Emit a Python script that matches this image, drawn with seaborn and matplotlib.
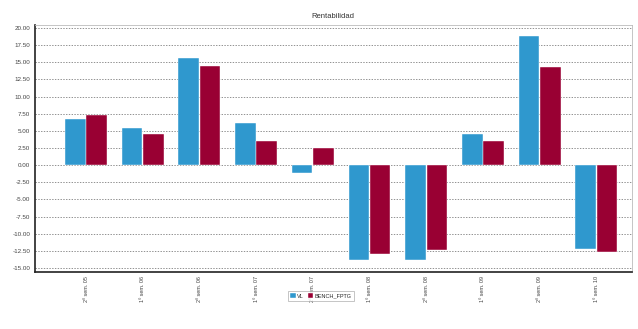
import matplotlib
matplotlib.use("Agg")
import matplotlib.pyplot as plt
import seaborn as sns
import pandas as pd

categories = ["2º sem. 05", "1º sem. 06", "2º sem. 06", "1º sem. 07", "2º sem. 07",
              "1º sem. 08", "2º sem. 08", "1º sem. 09", "2º sem. 09", "1º sem. 10"]
vl = [6.67, 5.35, 15.6, 6.18, -1.1, -13.87, -13.8, 4.5, 18.8, -12.2]
bench = [7.3, 4.57, 14.45, 3.45, 2.5, -12.9, -12.4, 3.45, 14.35, -12.75]
series_names = ["VL", "BENCH_FPTG"]
colors = ["#2F98CE", "#990033"]
yticks = [20, 17.5, 15, 12.5, 10, 7.5, 5, 2.5, 0, -2.5, -5, -7.5, -10, -12.5, -15]

df = pd.DataFrame({
    "cat": categories * 2,
    "val": vl + bench,
    "serie": [series_names[0]] * len(categories) + [series_names[1]] * len(categories),
})

sns.set_style("white")
plt.rcParams['font.family'] = ['Liberation Sans', 'DejaVu Sans']

fig = plt.figure(figsize=(6.38, 3.29), dpi=100)
ax = fig.add_axes([35/638, 1 - 272/329, (632-35)/638, (272-25)/329])

sns.barplot(data=df, x="cat", y="val", hue="serie", palette=colors, ax=ax,
            width=0.75, gap=0.03, saturation=1, edgecolor="white", linewidth=0.3,
            legend=True)

ax.set_xlim(-0.9, 9.63)
ax.set_ylim(-15.6, 20.45)
ax.set_yticks(yticks)
ax.set_yticklabels([f"{t:.2f}" for t in yticks], fontsize=4.5, color="#444444")
ax.tick_params(axis="y", length=2, width=0.6, pad=1.5, color="#333333")
ax.tick_params(axis="x", length=0, pad=3)
ax.set_xticks(range(len(categories)))
ax.set_xticklabels(categories, rotation=90, fontsize=4, color="#444444")
ax.set_xlabel("")
ax.set_ylabel("")
ax.grid(axis="y", linestyle=(0, (2, 2)), color="#666666", linewidth=0.5)
ax.set_axisbelow(True)

for side in ["top", "right"]:
    ax.spines[side].set_color("#bbbbbb")
    ax.spines[side].set_linewidth(0.6)
ax.spines["left"].set_color("#222222")
ax.spines["left"].set_linewidth(1.2)
ax.spines["bottom"].set_color("#222222")
ax.spines["bottom"].set_linewidth(1.2)

fig.text(333/638, 1 - 16/329, "Rentabilidad", ha="center", va="center", fontsize=5.5, color="#333333")

leg = ax.legend(loc="center", bbox_to_anchor=(321/638, 1 - 296/329),
                bbox_transform=fig.transFigure, ncol=2, fontsize=4,
                frameon=True, fancybox=False, handlelength=1.0, handleheight=1.0,
                handletextpad=0.3, columnspacing=0.6, borderpad=0.4, title=None)
leg.get_frame().set_edgecolor("#999999")
leg.get_frame().set_linewidth(0.5)

fig.savefig("out.png", dpi=100)
